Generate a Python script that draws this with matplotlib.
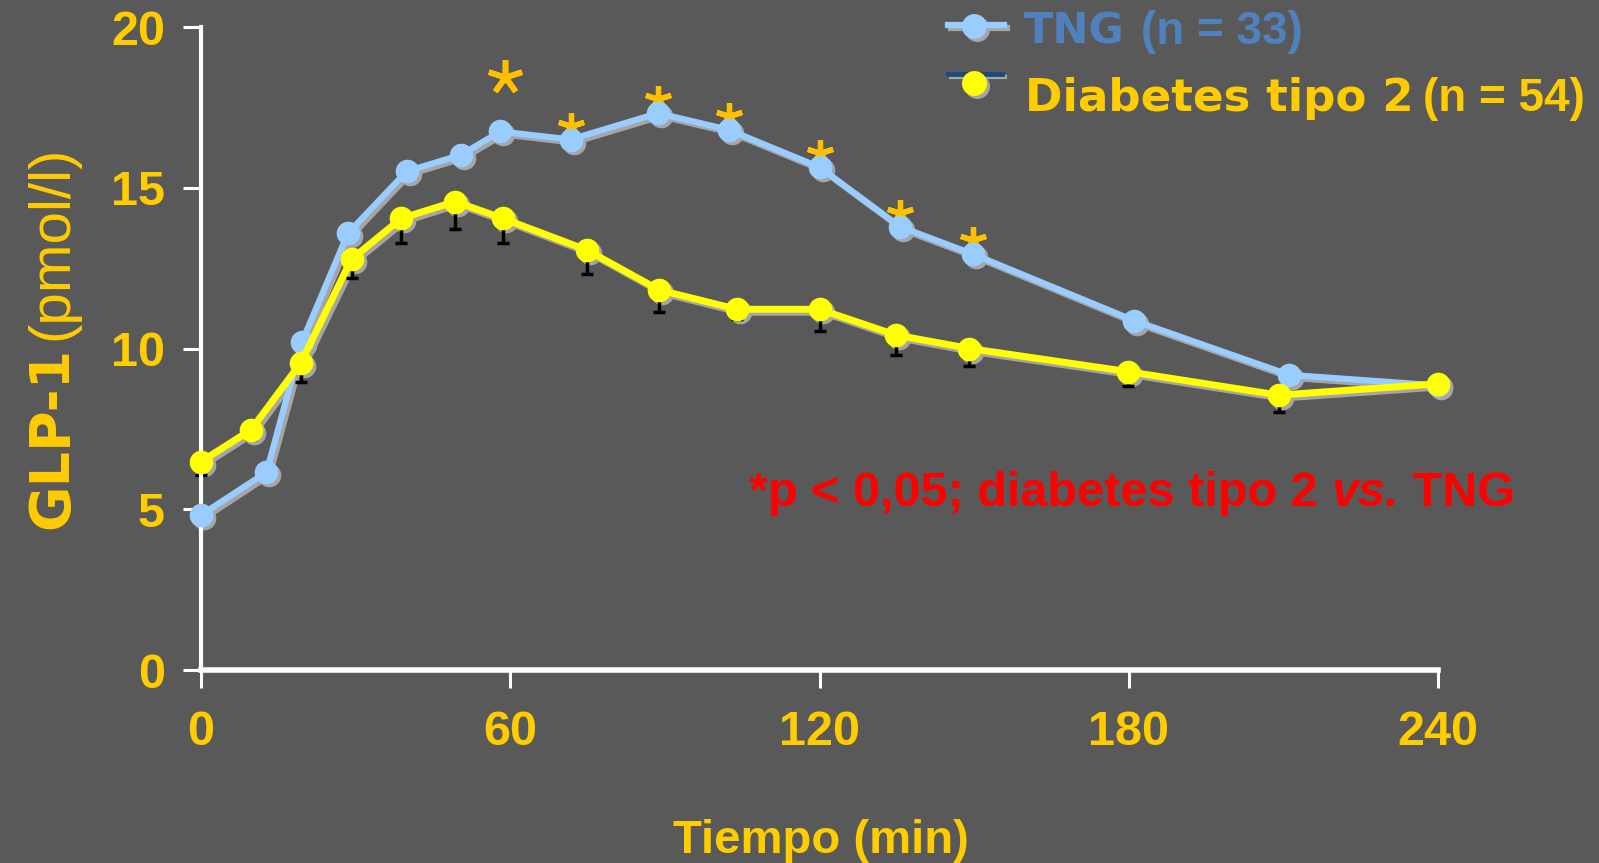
import numpy as np
import matplotlib
matplotlib.use("Agg")
import matplotlib.pyplot as plt
from matplotlib.lines import Line2D
from matplotlib.markers import MarkerStyle
from matplotlib.transforms import ScaledTranslation

# data
t_tng = [0, 12.7, 19.6, 28.5, 39.9, 50.4, 58.1, 71.7, 88.7, 102.4, 120, 135.6, 149.7, 181, 211.1, 240]
glp_tng = [4.82, 6.15, 10.21, 13.58, 15.51, 16.02, 16.75, 16.5, 17.32, 16.8, 15.64, 13.79, 12.94, 10.87, 9.18, 8.85]
sig_tng = [False] * 7 + [True] * 6 + [False] * 3

t_dm = [0, 9.7, 19.4, 29.2, 38.9, 49.3, 58.5, 74.9, 88.9, 104, 120, 134.8, 149.1, 179.9, 209.1, 240]
glp_dm = [6.48, 7.47, 9.56, 12.78, 14.05, 14.57, 14.05, 13.06, 11.82, 11.22, 11.22, 10.42, 10.0, 9.28, 8.55, 8.9]
sem_dm = [0.4, 0.3, 0.6, 0.6, 0.78, 0.86, 0.78, 0.73, 0.7, 0.3, 0.68, 0.62, 0.55, 0.45, 0.52, 0.2]

star_t = [59]
star_y = [18.45]

x_ticks = [0, 60, 120, 180, 240]
y_ticks = [0, 5, 10, 15, 20]

BG = "#595959"
GOLD = "#FFCC00"
BLUE = "#99CCFF"
YEL = "#FFFF00"
STAR = "#FFC000"

W, H = 1599, 863
fig = plt.figure(figsize=(W / 100, H / 100), dpi=100, facecolor=BG)


def fx(px):
    return px / W


def fy(py):
    return 1 - py / H


ax = fig.add_axes([fx(201), fy(670), fx(1438) - fx(201), fy(27) - fy(670)])
ax.set_facecolor("none")
ax.set_xlim(0, 240)
ax.set_ylim(0, 20)

# spines
for s in ["top", "right"]:
    ax.spines[s].set_visible(False)
ax.spines["left"].set_color("white")
ax.spines["left"].set_linewidth(3)
ax.spines["bottom"].set_color("white")
ax.spines["bottom"].set_linewidth(4)

ax.set_xticks(x_ticks)
ax.set_yticks(y_ticks)
ax.tick_params(axis="both", colors="white", length=13, width=2.2, direction="out",
               labelcolor=GOLD, labelsize=35)
ax.tick_params(axis="y", pad=13)
ax.tick_params(axis="x", pad=16)
for lab in ax.get_xticklabels() + ax.get_yticklabels():
    lab.set_fontfamily("Liberation Sans")
    lab.set_fontweight("bold")
for i in [0, -1]:
    ax.xaxis.get_major_ticks()[i].tick1line.set_color("black")
for i in [0, 1]:
    ax.yaxis.get_major_ticks()[i].tick1line.set_color("black")

# shadows
shadow = ax.transData + ScaledTranslation(3 / 100, -3 / 100, fig.dpi_scale_trans)
ax.plot(t_tng, glp_tng, color="#A6A6A6", lw=4.5, marker="o", ms=17, mew=0,
        transform=shadow, zorder=2, clip_on=False)
ax.plot(t_dm, glp_dm, color="#A6A6A6", lw=5, marker="o", ms=17, mew=0,
        transform=shadow, zorder=2, clip_on=False)

# error bars (lower only)
ax.errorbar(t_dm, glp_dm, yerr=[sem_dm, np.zeros(len(sem_dm))], fmt="none",
            ecolor="black", elinewidth=2.5, capsize=4.5, capthick=2.5, zorder=2.5,
            clip_on=False)

# asterisks
ast = MarkerStyle((5, 2, 0), capstyle="round")
up = ax.transData + ScaledTranslation(0, 10 / 72, fig.dpi_scale_trans)
ts = [t for t, s in zip(t_tng, sig_tng) if s]
ys = [y for y, s in zip(glp_tng, sig_tng) if s]
ax.plot(ts, ys, ls="none", marker=ast, ms=19, mec=STAR, mew=3.8, transform=up, zorder=2.8)
ax.plot(star_t, star_y, ls="none", marker=ast, ms=25, mec=STAR, mew=4, zorder=2.8)

ax.plot(t_tng, glp_tng, color=BLUE, lw=4.5, marker="o", ms=17, mew=0, zorder=3, clip_on=False)
ax.plot(t_dm, glp_dm, color=YEL, lw=5, marker="o", ms=17, mew=0, zorder=4, clip_on=False)

# axis titles
fig.text(fx(67), fy(438), "GLP-1", rotation=90, rotation_mode="anchor", ha="center",
         va="baseline", color=GOLD, fontsize=40, fontweight="bold", family="DejaVu Sans")
fig.text(fx(67), fy(243), "(pmol/l)", rotation=90, rotation_mode="anchor", ha="center",
         va="baseline", color=GOLD, fontsize=42, family="Liberation Sans")
fig.text(fx(821), fy(853), "Tiempo (min)", ha="center", va="baseline", color=GOLD,
         fontsize=34, fontweight="bold", family="Liberation Sans")

# legend
fig.add_artist(Line2D([fx(951), fx(1007)], [fy(28), fy(28)], color="#A6A6A6", lw=4.5))
fig.add_artist(Line2D([fx(977)], [fy(29.5)], marker="o", ms=18, mew=0, color="#A6A6A6"))
fig.add_artist(Line2D([fx(948), fx(1004)], [fy(25), fy(25)], color=BLUE, lw=4.5))
fig.add_artist(Line2D([fx(974)], [fy(26.5)], marker="o", ms=18, mew=0, color=BLUE))
fig.add_artist(Line2D([fx(951), fx(1005)], [fy(77), fy(77)], color="#A6A6A6", lw=3))
fig.add_artist(Line2D([fx(948), fx(1002)], [fy(74), fy(74)], color="#1F497D", lw=3.5))
fig.add_artist(Line2D([fx(977)], [fy(86)], marker="o", ms=18, mew=0, color="#A6A6A6"))
fig.add_artist(Line2D([fx(974)], [fy(83)], marker="o", ms=18, mew=0, color=YEL))

fig.text(fx(1024), fy(44), "TNG", color="#4F81BD", fontsize=31, fontweight="bold",
         family="DejaVu Sans", va="baseline")
fig.text(fx(1141), fy(44), "(n = 33)", color="#4F81BD", fontsize=33, fontweight="bold",
         family="Liberation Sans", va="baseline")
fig.text(fx(1025), fy(111), "Diabetes tipo 2", color=GOLD, fontsize=32.5, fontweight="bold",
         family="DejaVu Sans", va="baseline")
fig.text(fx(1423), fy(111), "(n = 54)", color=GOLD, fontsize=33, fontweight="bold",
         family="Liberation Sans", va="baseline")

# significance note
note = fig.text(fx(749), fy(506), "*p < 0,05; diabetes tipo 2 ", color="red", fontsize=35,
                fontweight="bold", family="Liberation Sans", va="baseline")
fig.canvas.draw()
bb = note.get_window_extent()
vs = fig.text(bb.x1 / W, fy(506), "vs.", color="red", fontsize=35, fontweight="bold",
              style="italic", family="Liberation Sans", va="baseline")
fig.canvas.draw()
bb2 = vs.get_window_extent()
fig.text(bb2.x1 / W, fy(506), " TNG", color="red", fontsize=35, fontweight="bold",
         family="Liberation Sans", va="baseline")

fig.savefig("out.png", dpi=100, facecolor=BG)
